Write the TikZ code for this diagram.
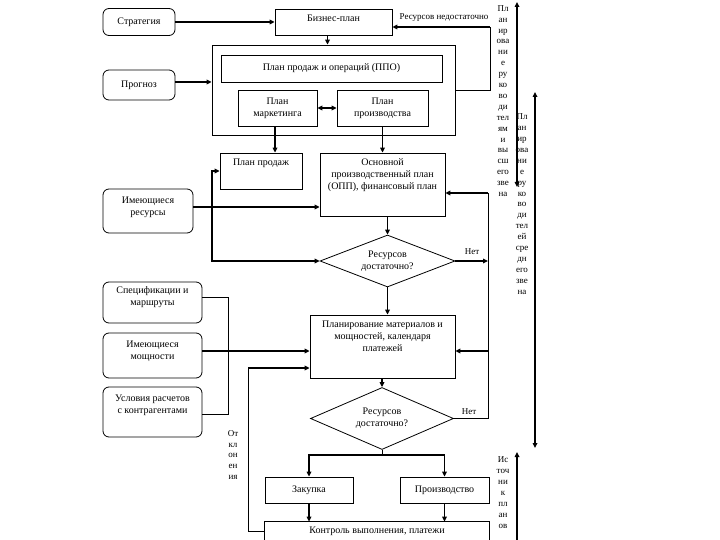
\documentclass[tikz,border=0pt]{standalone}
\usepackage{fontspec}
\setmainfont{Liberation Serif}
\usetikzlibrary{arrows.meta,shapes.geometric}
\begin{document}
\begin{tikzpicture}[x=1pt,y=-1pt,
  tip/.tip={Triangle[length=5pt,width=4.6pt]},
  box/.style={draw, line width=0.8pt, align=center, inner sep=1pt,
    font=\fontsize{10}{12}\selectfont},
  rbox/.style={box, rounded corners=6pt},
  sz/.style n args={2}{minimum width=#1pt, minimum height=#2pt},
  lift/.style={text depth=#1pt},
  dia/.style={draw, diamond, aspect=3, line width=0.8pt, inner sep=0pt, align=center,
    font=\fontsize{10}{12}\selectfont},
  conn/.style={line width=1.6pt, -tip},
  dconn/.style={line width=1.6pt, tip-tip},
  lnk/.style={line width=0.9pt},
  lbl/.style={font=\fontsize{9}{10}\selectfont, inner sep=0pt},
  col/.style={font=\fontsize{9}{10.9}\selectfont, align=center, inner sep=0pt}
]
\useasboundingbox (0,0) rectangle (720,540);
\fill[white] (0,0) rectangle (720,540);
\clip (0,0) rectangle (720,540);

% container and nodes
\node[box, sz={243}{90}] (cont) at (333.5,90) {};
\node[rbox, sz={72}{27}] (strat) at (139,22) {Стратегия};
\node[rbox, sz={72}{30}] (prog) at (139,85) {Прогноз};
\node[box, sz={117}{26}, lift=8] (biz) at (333.5,22) {Бизнес-план};
\node[box, sz={221}{27}] (ppo) at (331.5,68.5) {План продаж и операций (ППО)};
\node[box, sz={79}{36}] (mkt) at (277.5,108) {План\\маркетинга};
\node[box, sz={91}{36}] (prod) at (382.5,108) {План\\производства};
\node[box, sz={82}{36}, lift=17] (sales) at (261,171) {План продаж};
\node[box, sz={125}{63}, lift=20] (opp) at (382.5,184.5) {Основной\\производственный план\\(ОПП), финансовый план};
\node[rbox, sz={90}{44}, lift=9] (res) at (148,211) {Имеющиеся\\ресурсы};
\node[dia, sz={135}{52}] (d1) at (387.5,261) {Ресурсов\\достаточно?};
\node[rbox, sz={99}{41}, lift=12] (spec) at (152.5,302.5) {Спецификации и\\маршруты};
\node[rbox, sz={99}{45}, lift=10] (cap) at (152.5,355.5) {Имеющиеся\\мощности};
\node[rbox, sz={99}{50}, lift=16] (cond) at (152.5,412) {Условия расчетов\\с контрагентами};
\node[box, sz={145}{63}, lift=20] (plan) at (382.5,346.5) {Планирование материалов и\\мощностей, календаря\\платежей};
\node[dia, sz={143}{62}] (d2) at (382,418.5) {Ресурсов\\достаточно?};
\node[box, sz={88}{26}] (buy) at (309,490) {Закупка};
\node[box, sz={89}{26}] (make) at (444.5,490) {Производство};
\node[box, draw=none, sz={224}{18}] (ctrl) at (377,531) {Контроль выполнения, платежи};
\draw[line width=0.8pt] (ctrl.south west) -- (ctrl.north west) -- (ctrl.north east) -- (ctrl.south east);

% labels
\node[lbl] (lres) at (444,18) {Ресурсов недостаточно};
\node[lbl] (lno1) at (472,252) {Нет};
\node[lbl] (lno2) at (469,412) {Нет};
\node[col] (colA) at (503,101) {Пл\\ан\\ир\\ова\\ни\\е\\ру\\ко\\во\\ди\\тел\\ям\\и\\вы\\сш\\его\\зве\\на};
\node[col] (colB) at (522,204) {Пл\\ан\\ир\\ова\\ни\\е\\ру\\ко\\во\\ди\\тел\\ей\\сре\\дн\\его\\зве\\на};
\node[col] (colC) at (503,492.5) {Ис\\точ\\ни\\к\\пл\\ан\\ов};
\node[col] (colD) at (233,455) {От\\кл\\он\\ен\\ия};

% free corner points
\coordinate (r1) at (490,90);
\coordinate (r2) at (490,27);
\coordinate (j1) at (212,207);
\coordinate (r3) at (488,261);
\coordinate (r4) at (488,418.5);
\coordinate (r5) at (488,193);
\coordinate (b1) at (228,297);
\coordinate (b2) at (228,414);
\coordinate (f1) at (248,368);
\coordinate (f2) at (248,531);
\coordinate (s1) at (382,455);

% connectors
\draw[conn] (strat) -- (biz);
\draw[conn] ([yshift=3pt]prog.east) -- ([yshift=3pt]prog.east -| cont.west);
\draw[conn] ([xshift=-6pt]biz.south) -- ([xshift=-6pt]biz.south |- cont.north);
\draw[lnk] (cont.east) -- (r1) -- (r2);
\draw[conn] (r2) -- (r2 -| biz.east);
\draw[dconn] (mkt) -- (prod);
\draw[conn] ([xshift=-2.5pt]mkt.south) -- ([xshift=-2.5pt]mkt.south |- sales.north);
\draw[conn] (prod) -- (opp);
\draw[conn] ([yshift=4pt]res.east) -- ([yshift=4pt]res.east -| opp.west);
\draw[conn] (j1) -- (j1 |- sales.west) -- (sales.west);
\draw[conn] (j1) -- (j1 |- d1.west) -- (d1.west);
\draw[conn] (opp.south -| d1.north) -- (d1.north);
\draw[conn] (d1.south) -- (d1.south |- plan.north);
\draw[conn] (d1.east) -- (r3);
\draw[lnk] (d2.east) -- (r4) -- (r5);
\draw[conn] (r5) -- (r5 -| opp.east);
\draw[conn] (r4 |- plan.east) ++(0,4.5) -- ([yshift=-4.5pt]plan.east);
\draw[conn] ([yshift=4.5pt]cap.east) -- ([yshift=4.5pt]cap.east -| plan.west);
\draw[lnk] (spec.east |- b1) -- (b1) -- (b2) -- (b2 -| cond.east);
\draw[lnk] (ctrl.west) -- (f2) -- (f1);
\draw[conn] (f1) -- (f1 -| plan.west);
\draw[conn] (plan.south -| d2.north) -- (d2.north);
\draw[lnk] (d2.south) -- (s1);
\draw[conn] (s1) -| (buy.north);
\draw[conn] (s1) -| (make.north);
\draw[conn] (buy) -- (buy |- ctrl.north);
\draw[conn] (make) -- (make |- ctrl.north);

% vertical level arrows
\draw[dconn] (517,2) -- (517,187);
\draw[dconn] (535,92) -- (535,448);
\draw[conn] (517,540) -- (517,452);
\end{tikzpicture}
\end{document}
